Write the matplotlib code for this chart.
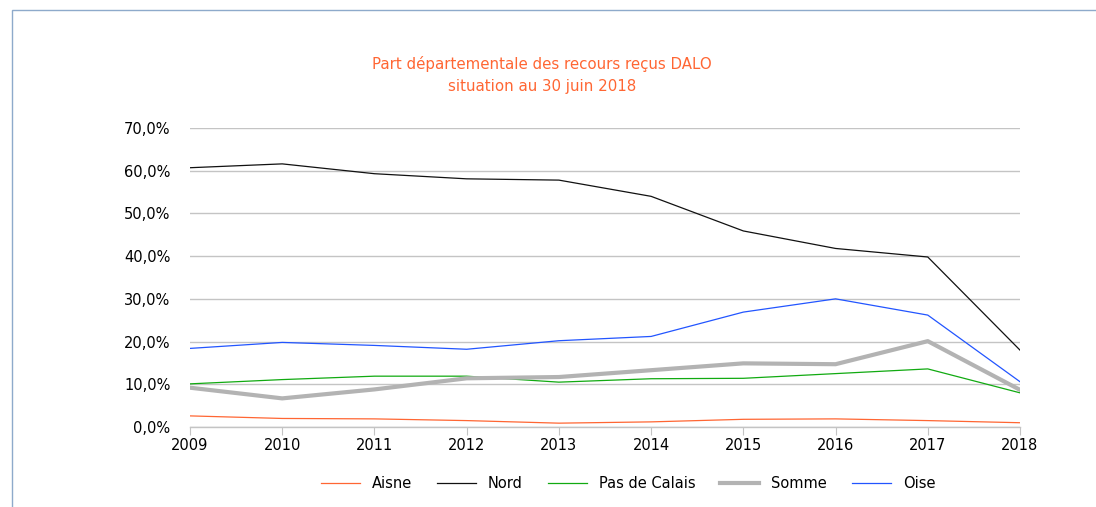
import matplotlib.pyplot as plt
from matplotlib.patches import Rectangle
from matplotlib.ticker import FuncFormatter

# Data (share of DALO appeals per department, %)
years = [2009, 2010, 2011, 2012, 2013, 2014, 2015, 2016, 2017, 2018]
aisne = [2.6, 2.0, 1.9, 1.5, 0.9, 1.2, 1.8, 1.9, 1.5, 1.0]
nord = [60.7, 61.6, 59.3, 58.1, 57.8, 54.0, 45.9, 41.8, 39.8, 18.0]
pas_de_calais = [10.1, 11.1, 11.9, 11.9, 10.5, 11.3, 11.4, 12.5, 13.6, 8.0]
somme = [9.2, 6.7, 8.8, 11.4, 11.7, 13.3, 14.9, 14.7, 20.1, 8.7]
oise = [18.4, 19.8, 19.1, 18.2, 20.2, 21.2, 26.9, 30.0, 26.2, 10.6]

fig = plt.figure(figsize=(10.96, 5.07), dpi=100)

# light blue frame around the chart area
fig.patches.append(Rectangle((12 / 1096, -0.1), 1.2, 1 - 10 / 507 + 0.1,
                             transform=fig.transFigure, fill=False,
                             edgecolor='#8eaacb', linewidth=1))

ax = fig.add_axes([190 / 1096, 1 - 427 / 507, 830 / 1096, 299 / 507])

ax.plot(years, aisne, color='#ff6633', linewidth=0.9, label='Aisne')
ax.plot(years, nord, color='#111111', linewidth=0.9, label='Nord')
ax.plot(years, pas_de_calais, color='#11aa11', linewidth=0.9, label='Pas de Calais')
ax.plot(years, somme, color='#b3b3b3', linewidth=3, label='Somme')
ax.plot(years, oise, color='#2255ff', linewidth=0.9, label='Oise')

ax.set_xlim(2009, 2018)
ax.set_ylim(0, 70)
ax.set_xticks(years)
ax.set_yticks(range(0, 71, 10))
ax.yaxis.set_major_formatter(FuncFormatter(lambda v, p: f"{v:.1f}%".replace('.', ',')))
ax.grid(axis='y', color='#c4c4c4', linewidth=1)
ax.set_axisbelow(True)

for s in ['top', 'right', 'left']:
    ax.spines[s].set_visible(False)
ax.spines['bottom'].set_color('#c4c4c4')
ax.spines['bottom'].set_linewidth(1)
ax.tick_params(axis='y', length=0, pad=14, labelsize=10.5)
ax.tick_params(axis='x', length=6, color='#c4c4c4', labelsize=10.5, pad=2)

fig.text(542 / 1096, 1 - 64 / 507, 'Part départementale des recours reçus DALO',
         color='#ff6633', ha='center', va='center', fontsize=10.8)
fig.text(542 / 1096, 1 - 87 / 507, 'situation au 30 juin 2018',
         color='#ff6633', ha='center', va='center', fontsize=10.8)

fig.legend(loc='center', bbox_to_anchor=(628 / 1096, 1 - 484 / 507), ncol=5,
           frameon=False, fontsize=10.5, handlelength=2.7, handletextpad=0.8,
           columnspacing=1.7)

fig.savefig('out.png', dpi=100)
